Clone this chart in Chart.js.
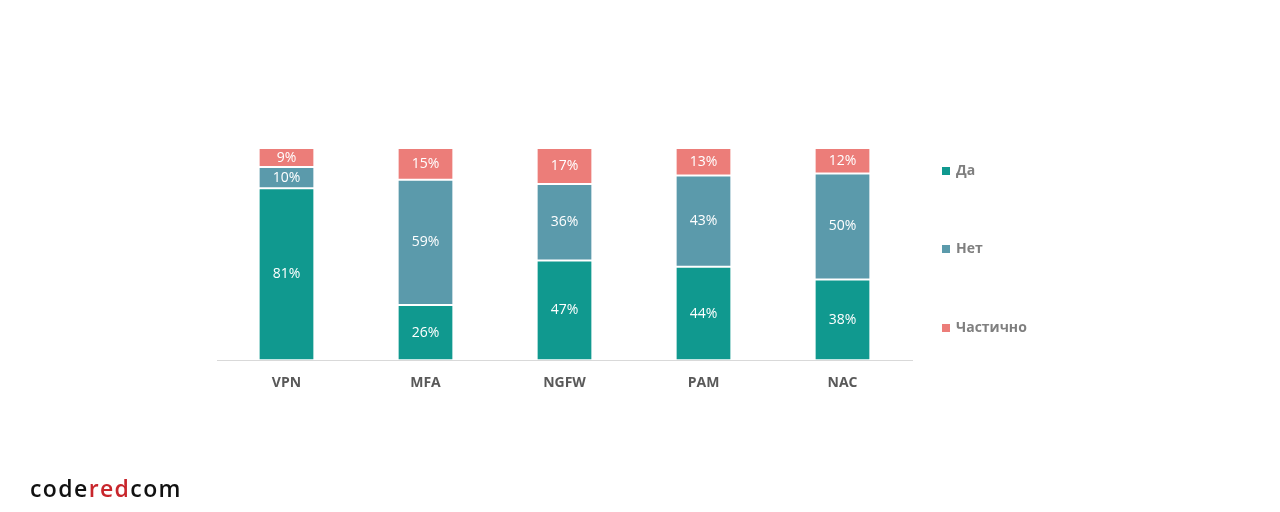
<!DOCTYPE html>
<html>
<head>
<meta charset="utf-8">
<script src="https://cdn.jsdelivr.net/npm/chart.js@4"></script>
<style>
  html, body { margin: 0; padding: 0; background: #fff; }
  #wrap { position: relative; width: 1280px; height: 512px; }
  #logo {
    position: absolute; left: 30px; top: 472px;
    font-family: "Open Sans", Arial, sans-serif; font-size: 23px; font-weight: 600;
    color: #111; letter-spacing: 1.4px;
  }
  #logo span { color: #c8262c; }
</style>
</head>
<body>
<div id="wrap">
  <canvas id="chart" width="1280" height="512"></canvas>
  <div id="logo">code<span>red</span>com</div>
</div>
<script>
// Data
const categories = ['VPN', 'MFA', 'NGFW', 'PAM', 'NAC'];
const yesValues = [81, 26, 47, 44, 38];
const noValues = [10, 59, 36, 43, 50];
const partialValues = [9, 15, 17, 13, 12];
const seriesNames = ['Да', 'Нет', 'Частично'];
const seriesColors = ['#10998f', '#5b9aab', '#ec7d79'];

// Percent labels inside segments
const segmentLabels = {
    id: 'segmentLabels',
    afterDatasetsDraw(chart) {
        const ctx = chart.ctx;
        ctx.save();
        ctx.font = '14px "Open Sans", sans-serif';
        ctx.fillStyle = '#ffffff';
        ctx.textAlign = 'center';
        ctx.textBaseline = 'middle';
        chart.data.datasets.forEach((ds, i) => {
            chart.getDatasetMeta(i).data.forEach((bar, j) => {
                const mid = (bar.y + bar.base) / 2;
                ctx.fillText(ds.data[j] + '%', bar.x, mid);
            });
        });
        ctx.restore();
    }
};

// Vertical legend on the right
const sideLegend = {
    id: 'sideLegend',
    afterDraw(chart) {
        const ctx = chart.ctx;
        const rows = [171, 249, 328];
        ctx.save();
        ctx.font = 'bold 14px "Open Sans", sans-serif';
        ctx.textBaseline = 'middle';
        chart.data.datasets.forEach((ds, i) => {
            ctx.fillStyle = ds.backgroundColor;
            ctx.fillRect(942, rows[i] - 4, 8, 8);
            ctx.fillStyle = '#7f7f7f';
            ctx.fillText(ds.label, 956, rows[i]);
        });
        ctx.restore();
    }
};

new Chart(document.getElementById('chart').getContext('2d'), {
    type: 'bar',
    data: {
        labels: categories,
        datasets: [
            { label: seriesNames[0], data: yesValues, backgroundColor: seriesColors[0] },
            { label: seriesNames[1], data: noValues, backgroundColor: seriesColors[1] },
            { label: seriesNames[2], data: partialValues, backgroundColor: seriesColors[2] }
        ].map(ds => Object.assign(ds, {
            borderColor: '#ffffff',
            borderWidth: { top: 1, bottom: 1, left: 0, right: 0 },
            borderSkipped: false,
            barPercentage: 0.39,
            categoryPercentage: 1
        }))
    },
    options: {
        responsive: false,
        animation: false,
        layout: { padding: { left: 217, right: 368, top: 148, bottom: 115 } },
        plugins: {
            legend: { display: false },
            tooltip: { enabled: false }
        },
        scales: {
            x: {
                stacked: true,
                grid: { display: false },
                border: { display: true, color: '#d9d9d9', width: 1 },
                ticks: {
                    color: '#595959',
                    padding: 6,
                    font: { family: '"Open Sans", sans-serif', size: 14, weight: 'bold' }
                }
            },
            y: {
                stacked: true,
                display: false,
                min: 0,
                max: 100
            }
        }
    },
    plugins: [segmentLabels, sideLegend]
});
</script>
</body>
</html>
